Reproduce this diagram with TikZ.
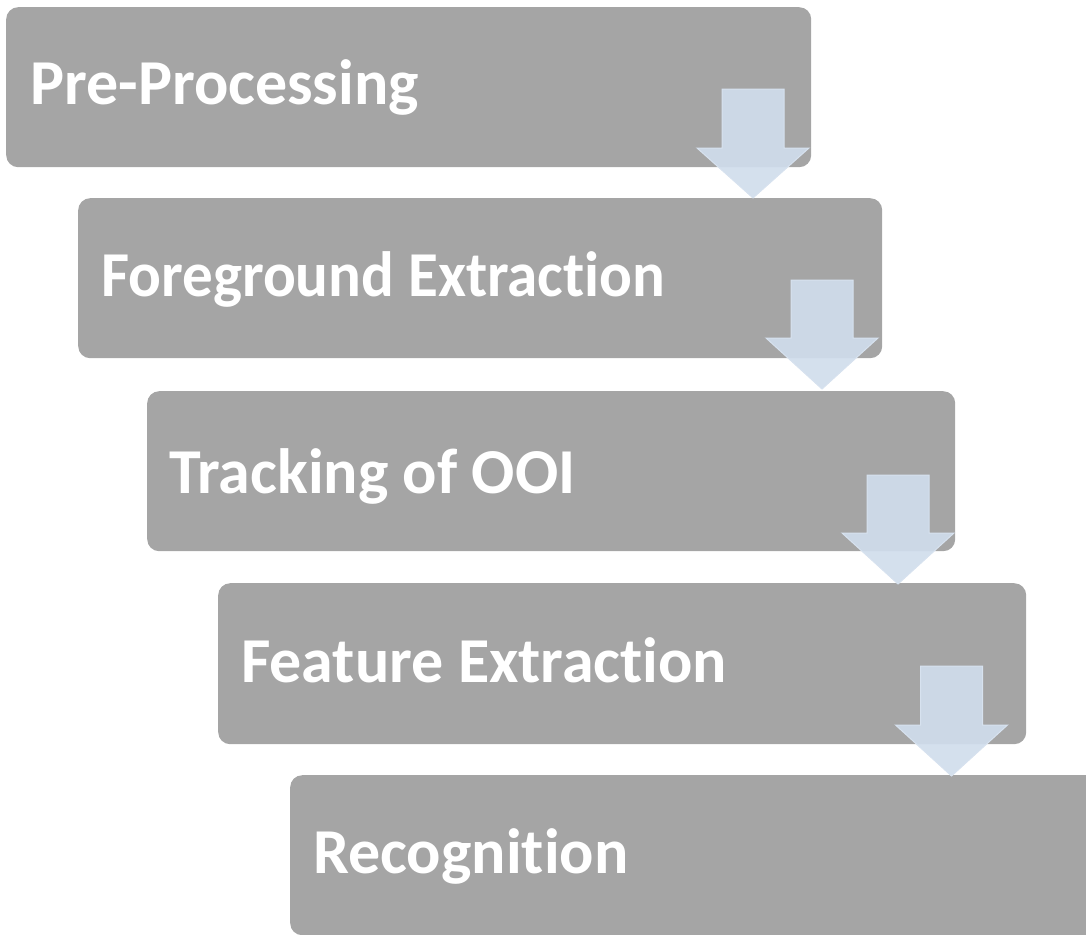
\documentclass[tikz,border=0pt]{standalone}
\usepackage{fontspec}
\setmainfont[Ligatures=NoCommon]{Carlito}
\usetikzlibrary{calc}
\definecolor{stepgray}{HTML}{A5A5A5}
\definecolor{flowblue}{HTML}{D0DDEC}
\tikzset{
  stagebox/.style={fill=stepgray, draw=none, rounded corners=12pt, anchor=north west,
    minimum width=805pt, minimum height=160pt, inner sep=0pt},
  stagetext/.style={anchor=base west, text=white, font=\fontsize{64}{66}\selectfont\bfseries, inner sep=0pt},
  flowarrow/.style={fill=flowblue, fill opacity=0.92, draw=flowblue!85!white, line width=1pt, line join=miter}
}
% block arrow pointing down: #1 centre x, #2 top y, #3 shoulder y, #4 tip y
\newcommand{\blockarrow}[4]{%
  \draw[flowarrow] (#1-31,#2) -- (#1+31,#2) -- (#1+31,#3) -- (#1+56,#3)
    -- (#1,#4) -- (#1-56,#3) -- (#1-31,#3) -- cycle;}
\begin{document}
\begin{tikzpicture}[x=1pt,y=-1pt]
  \useasboundingbox (0,0) rectangle (1086,934);
  \begin{scope}
    \clip (0,0) rectangle (1086,934);
    \node[stagebox] (pre)   at (6,7)     {};
    \node[stagebox, minimum width=804pt] (fg) at (78,198) {};
    \node[stagebox, minimum width=808pt] (trk) at (147,391) {};
    \node[stagebox, minimum width=808pt, minimum height=161pt] (feat) at (218,583) {};
    \node[stagebox, minimum width=808pt] (rec) at (290,775) {};

    \node[stagetext] (preT)  at ($(pre.north west)+(24,97)$)  {Pre-Processing};
    \node[stagetext] (fgT)   at ($(fg.north west)+(23,98)$)   {\scalebox{0.955}[1]{Foreground Extraction}};
    \node[stagetext] (trkT)  at ($(trk.north west)+(22,102)$) {Tracking of OOI};
    \node[stagetext] (featT) at ($(feat.north west)+(23,99)$) {Feature Extraction};
    \node[stagetext] (recT)  at ($(rec.north west)+(23,98)$)  {Recognition};

    \blockarrow{753}{89}{148}{198}
    \blockarrow{822}{280}{338}{389}
    \blockarrow{898}{475}{533}{584}
    \blockarrow{951.5}{666}{725}{776}
  \end{scope}
\end{tikzpicture}
\end{document}
